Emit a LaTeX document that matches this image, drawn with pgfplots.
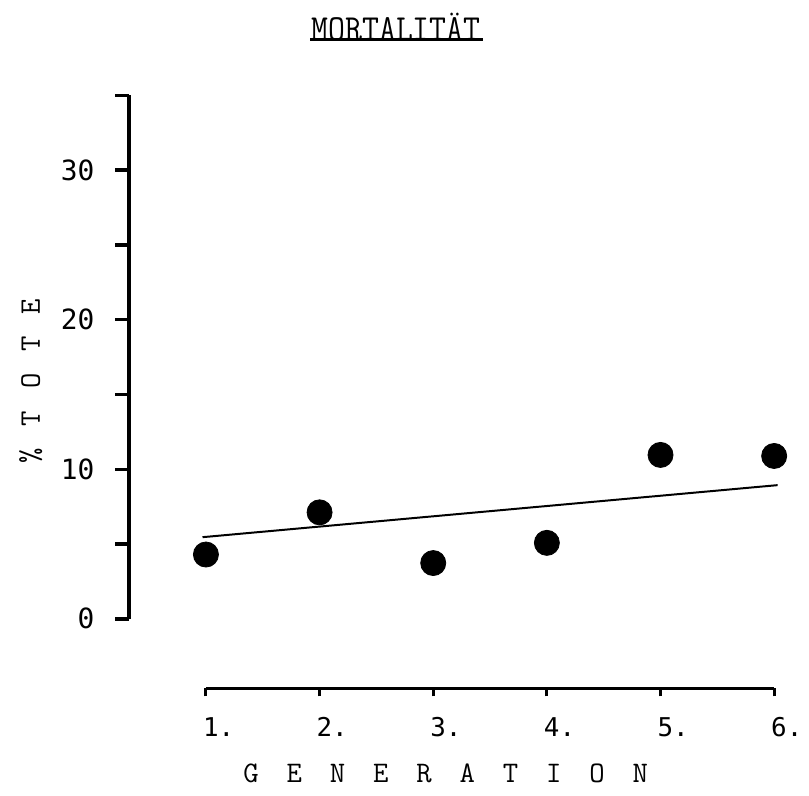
\documentclass[border=0pt]{standalone}
\usepackage{fontspec}
\usepackage{pgfplots}
\pgfplotsset{compat=1.18}
\newfontfamily\tk{DejaVu Sans Mono}
\newcommand{\gapx}{\hspace{14pt}}
\newcommand{\gapy}{\hspace{11pt}}

\begin{document}
\begin{tikzpicture}
% y axis and the data
\begin{axis}[
  name=main,
  scale only axis,
  width=324pt, height=263pt,
  xmin=0.326, xmax=6,
  ymin=0, ymax=35,
  axis x line=none,
  axis y line=left,
  y axis line style={line width=2pt, -},
  ytick={0,10,20,30},
  minor ytick={5,15,25,35},
  tick align=outside,
  major tick length=7pt, minor tick length=7pt,
  tick style={line width=1.7pt, black},
  /pgf/number format/assume math mode=true,
  yticklabel style={font=\tk\fontsize{14}{16}\selectfont, xshift=-7pt},
  clip=false,
]
% fitted trend line
\addplot[black, line width=1pt] coordinates {(0.97,5.46) (6.03,8.94)};
% measured mortality per generation
\addplot[only marks, mark=*, mark size=6.3pt, black] coordinates {
  (1,4.3) (2,7.12) (3,3.73) (4,5.08) (5,10.96) (6,10.89)
};

\node[font=\ttfamily\fontsize{16.5}{18}\selectfont] at (axis cs:2.673,39.6)
  {\scalebox{1}[1.12]{MORTALITÄT}};
\draw[line width=1.5pt] (axis cs:1.92,38.72) -- (axis cs:3.435,38.72);

\node[rotate=90, font=\ttfamily\fontsize{15}{17}\selectfont] at (axis cs:-0.541,15.9)
  {\%\gapy T\gapy O\gapy T\gapy E};
\node[font=\ttfamily\fontsize{15}{17}\selectfont] at (axis cs:3.11,-10.35)
  {G\gapx E\gapx N\gapx E\gapx R\gapx A\gapx T\gapx I\gapx O\gapx N};

\coordinate (xo) at (axis cs:1,-4.657);
\path (axis cs:-0.812,41.38) rectangle (axis cs:6.272,-11.84);
\end{axis}

% separate x axis below
\begin{axis}[
  at={(xo)}, anchor=south west,
  scale only axis,
  width=285.5pt, height=10pt,
  xmin=1, xmax=6, ymin=0, ymax=1,
  axis y line=none,
  axis x line=bottom,
  x axis line style={line width=1.5pt, -},
  xtick={1,2,3,4,5,6},
  xticklabels={1.,2.,3.,4.,5.,6.},
  tick align=outside,
  major tick length=4pt,
  tick style={line width=1.5pt, black},
  /pgf/number format/assume math mode=true,
  xticklabel style={font=\tk\fontsize{13}{15}\selectfont, anchor=north west, xshift=-5pt, yshift=-7pt},
]
\end{axis}
\end{tikzpicture}
\end{document}
